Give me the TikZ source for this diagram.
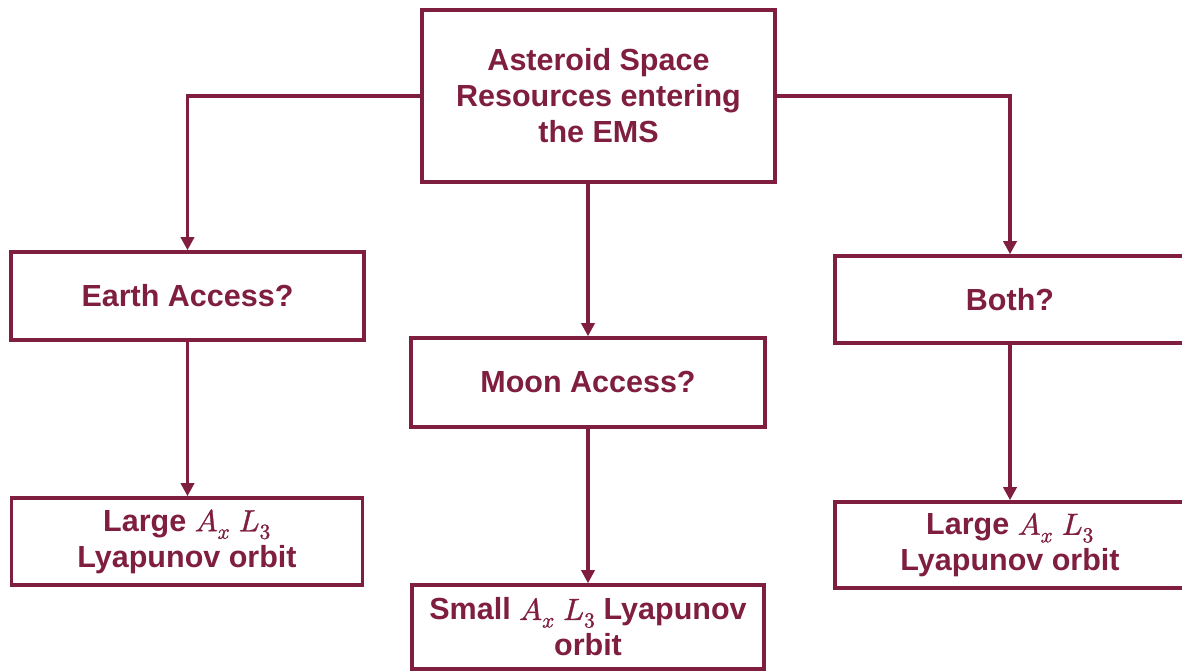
\documentclass[tikz,border=0pt]{standalone}
\usepackage{unicode-math}
\setmainfont{Liberation Sans}
\setmathfont{Latin Modern Math}[FakeBold=1.2]
\usetikzlibrary{arrows.meta}
\definecolor{wine}{RGB}{127,30,62}
\begin{document}
\begin{tikzpicture}[x=1pt,y=1pt,
  box/.style={draw=wine, line width=3.5pt, rectangle, align=center,
    text=wine, font=\fontsize{30.5}{36}\selectfont\bfseries, inner sep=2pt},
  link/.style={draw=wine, line width=3.5pt, -{Triangle[width=13pt,length=13pt]}}]
  \fill[white] (0,0) rectangle (1182,671);
  \useasboundingbox (0,0) rectangle (1182,671);

  % decision tree nodes
  \node[box, minimum width=353pt, minimum height=172pt] (src) at (598.5,575)
    {Asteroid Space\\Resources entering\\the EMS};
  \node[box, minimum width=353pt, minimum height=88pt] (earth) at (187.5,375)
    {Earth Access?};
  \node[box, minimum width=354pt, minimum height=89pt] (moon) at (588,288.5)
    {Moon Access?};
  \node[box, minimum width=350pt, minimum height=87pt] (both) at (1010,371.5)
    {Both?};
  \node[box, minimum width=351pt, minimum height=87pt] (lgL) at (187,129.5)
    {Large $A_x\ L_3$\\Lyapunov orbit};
  \node[box, minimum width=352pt, minimum height=84pt] (small) at (588,44)
    {Small $A_x\ L_3$ Lyapunov\\orbit};
  \node[box, minimum width=350pt, minimum height=86pt] (lgR) at (1010,126)
    {Large $A_x\ L_3$\\Lyapunov orbit};

  % connectors
  \draw[link] (src.west) -| (earth.north);
  \draw[link] (src.east) -| (both.north);
  \draw[link] (src.south -| moon.north) -- (moon.north);
  \draw[link] (earth.south) -- (earth.south |- lgL.north);
  \draw[link] (moon.south) -- (small.north);
  \draw[link] (both.south) -- (lgR.north);
\end{tikzpicture}
\end{document}
